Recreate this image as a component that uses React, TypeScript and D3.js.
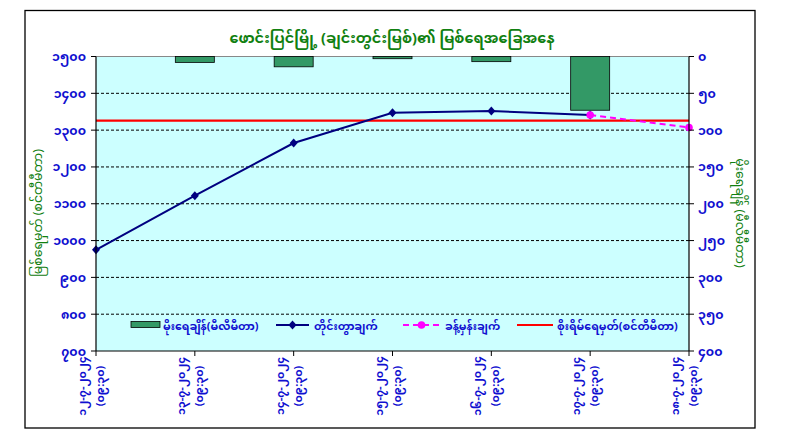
import React from "react";
import * as d3 from "d3";

const title = "ဖောင်းပြင်မြို့ (ချင်းတွင်းမြစ်)၏ မြစ်ရေအခြေအနေ";
const leftTitle = "မြစ်ရေမှတ် (စင်တီမီတာ)";
const rightTitle = "မိုးရေချိန် (မီလီမီတာ)";

const dates = ["၁၂-၇-၂၀၂၄", "၁၃-၇-၂၀၂၄", "၁၄-၇-၂၀၂၄", "၁၅-၇-၂၀၂၄", "၁၆-၇-၂၀၂၄", "၁၇-၇-၂၀၂၄", "၁၈-၇-၂၀၂၄"];
const times = ["(၀၉:၃၀)", "(၀၉:၃၀)", "(၀၉:၃၀)", "(၀၉:၃၀)", "(၀၉:၃၀)", "(၀၉:၃၀)", "(၀၉:၃၀)"];

const rainfall: (number | null)[] = [null, 8, 14, 3, 7, 73, null];
const observed: (number | null)[] = [975, 1122, 1265, 1347, 1352, 1341, null];
const forecast: (number | null)[] = [null, null, null, null, null, 1341, 1307];
const dangerLevel = 1326;

const leftTicks = [700, 800, 900, 1000, 1100, 1200, 1300, 1400, 1500];
const rightTicks = [0, 50, 100, 150, 200, 250, 300, 350, 400];

const legendLabels = ["မိုးရေချိန်(မီလီမီတာ)", "တိုင်းတွာချက်", "ခန့်မှန်းချက်", "စိုးရိမ်ရေမှတ်(စင်တီမီတာ)"];

const MY_DIGITS = "၀၁၂၃၄၅၆၇၈၉";
const toMy = (n: number) => String(n).replace(/[0-9]/g, (d) => MY_DIGITS[+d]);

const FONT = "'Noto Sans Myanmar', 'Padauk', 'Myanmar Text', 'Noto Sans', sans-serif";
const BLUE = "#1010d0";
const GREEN = "#108010";

const DIAMOND = "M0,-4.5L4,0L0,4.5L-4,0Z";

export default function App() {
  const W = 801, H = 443;
  const L = 96, R = 689, T = 56.5, B = 351;
  const idx = dates.map((_, i) => i);
  const x = d3.scalePoint<number>().domain(idx).range([L, R]);
  const yL = d3.scaleLinear().domain([700, 1500]).range([B, T]);
  const yR = d3.scaleLinear().domain([0, 400]).range([T, B]);
  const barW = 39;

  const obsLine = d3
    .line<number | null>()
    .defined((d) => d != null)
    .x((_, i) => x(i) as number)
    .y((d) => yL(d as number));

  const fcPts = forecast.map((v, i) => ({ v, i })).filter((d) => d.v != null);
  const fcLine = d3
    .line<{ v: number | null; i: number }>()
    .x((d) => x(d.i) as number)
    .y((d) => yL(d.v as number));

  return (
    <svg width={W} height={H} style={{ display: "block", position: "absolute", left: 0, top: 0 }} fontFamily={FONT}>
      <rect x={0} y={0} width={W} height={H} fill="#fff" />
      <rect x={25} y={10.5} width={730} height={417.5} fill="#fff" stroke="#000" strokeWidth={1.3} />
      <text x={392} y={43} textAnchor="middle" fill={GREEN} fontSize={14.5} fontWeight="bold">{title}</text>

      {/* plot area */}
      <rect x={L} y={T} width={R - L} height={B - T} fill="#ccffff" />
      <line x1={L} x2={R} y1={T} y2={T} stroke="#888" strokeWidth={1.2} />
      {leftTicks.slice(1, -1).map((t) => (
        <line key={t} x1={L} x2={R} y1={yL(t)} y2={yL(t)} stroke="#000" strokeWidth={1} strokeDasharray="3,2" />
      ))}

      {/* bars */}
      {rainfall.map((v, i) =>
        v == null ? null : (
          <rect key={i} x={(x(i) as number) - barW / 2} y={yR(0)} width={barW} height={yR(v) - yR(0)}
            fill="#339966" stroke="#000" strokeWidth={0.8} />
        )
      )}

      {/* danger line */}
      <line x1={L} x2={R} y1={yL(dangerLevel)} y2={yL(dangerLevel)} stroke="#ff0000" strokeWidth={2.2} />

      {/* observed */}
      <path d={obsLine(observed) || ""} fill="none" stroke="#000080" strokeWidth={2} />
      {observed.map((v, i) =>
        v == null ? null : (
          <path key={i} d={DIAMOND} transform={`translate(${x(i)},${yL(v)})`} fill="#000080" />
        )
      )}

      {/* forecast */}
      <path d={fcLine(fcPts) || ""} fill="none" stroke="#ff00ff" strokeWidth={2} strokeDasharray="6,4" />
      {fcPts.map((d) => (
        <circle key={d.i} cx={x(d.i)} cy={yL(d.v as number)} r={3.8} fill="#ff00ff" />
      ))}

      {/* axes */}
      <line x1={L} x2={L} y1={T} y2={B} stroke="#000" strokeWidth={1.2} />
      <line x1={R} x2={R} y1={T} y2={B} stroke="#000" strokeWidth={1.2} />
      <line x1={L} x2={R} y1={B} y2={B} stroke="#000" strokeWidth={1.2} />
      {leftTicks.map((t) => (
        <g key={t}>
          <line x1={L - 5} x2={L} y1={yL(t)} y2={yL(t)} stroke="#000" />
          <text x={86} y={yL(t) + 4.5} textAnchor="end" fill={BLUE} fontSize={12.5} fontWeight="bold">{toMy(t)}</text>
        </g>
      ))}
      {rightTicks.map((t) => (
        <g key={t}>
          <line x1={R} x2={R + 5} y1={yR(t)} y2={yR(t)} stroke="#000" />
          <text x={698} y={yR(t) + 4.5} textAnchor="start" fill={BLUE} fontSize={12.5} fontWeight="bold">{toMy(t)}</text>
        </g>
      ))}
      {idx.map((i) => (
        <g key={i}>
          <line x1={x(i)} x2={x(i)} y1={B} y2={B + 5} stroke="#000" />
          <text transform={`translate(${(x(i) as number) - 10},386) rotate(-90)`} textAnchor="middle" fill={BLUE} fontSize={11} fontWeight="bold">{dates[i]}</text>
          <text transform={`translate(${(x(i) as number) + 8},386) rotate(-90)`} textAnchor="middle" fill={BLUE} fontSize={11} fontWeight="bold">{times[i]}</text>
        </g>
      ))}

      {/* axis titles */}
      <text transform="translate(42,213) rotate(-90)" textAnchor="middle" fill={GREEN} fontSize={12.5}>{leftTitle}</text>
      <text transform="translate(736,213) rotate(90)" textAnchor="middle" fill={GREEN} fontSize={12.5}>{rightTitle}</text>

      {/* legend */}
      <g fontSize={11} fill={BLUE} fontWeight="bold">
        <rect x={131} y={321.5} width={29} height={6} fill="#339966" stroke="#000" strokeWidth={0.8} />
        <text x={163} y={329.5}>{legendLabels[0]}</text>
        <line x1={276} x2={309} y1={325} y2={325} stroke="#000080" strokeWidth={2} />
        <path d={DIAMOND} transform="translate(292.5,325)" fill="#000080" />
        <text x={314} y={329.5}>{legendLabels[1]}</text>
        <line x1={403} x2={440} y1={325} y2={325} stroke="#ff00ff" strokeWidth={2} strokeDasharray="6,4" />
        <circle cx={421.5} cy={325} r={3.8} fill="#ff00ff" />
        <text x={445} y={329.5}>{legendLabels[2]}</text>
        <line x1={517} x2={553} y1={325} y2={325} stroke="#ff0000" strokeWidth={2.2} />
        <text x={557} y={329.5}>{legendLabels[3]}</text>
      </g>
    </svg>
  );
}
